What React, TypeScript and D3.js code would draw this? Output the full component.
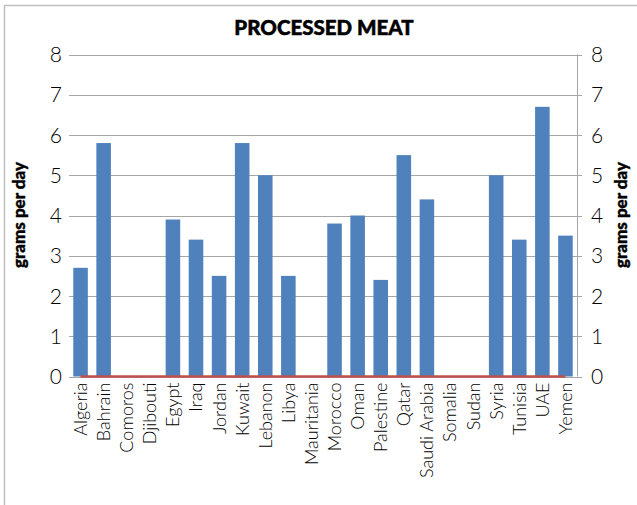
import React from "react";
import * as d3 from "d3";

const countries = ["Algeria","Bahrain","Comoros","Djibouti","Egypt","Iraq","Jordan","Kuwait","Lebanon","Libya","Mauritania","Morocco","Oman","Palestine","Qatar","Saudi Arabia","Somalia","Sudan","Syria","Tunisia","UAE","Yemen"];
const values = [2.7,5.8,0,0,3.9,3.4,2.5,5.8,5.0,2.5,0,3.8,4.0,2.4,5.5,4.4,0,0,5.0,3.4,6.7,3.5];
const baseline = countries.map(() => 0);
const yTicks = [0,1,2,3,4,5,6,7,8];

const W = 637, H = 505;
const left = 69, right = 577, top = 54.5, bottom = 376.5;
const font = "Lato, 'Noto Sans', sans-serif";

export default function App() {
  const x = d3.scaleBand<string>().domain(countries).range([left, right]).paddingInner(0.37).paddingOuter(0.185);
  const xc = d3.scaleBand<string>().domain(countries).range([left, right]);
  const y = d3.scaleLinear().domain([0, 8]).range([bottom, top]);
  const line = d3.line<number>().x((_, i) => xc(countries[i])! + xc.bandwidth() / 2).y(d => y(d));
  return (
    <svg width={W} height={H} style={{ position: "absolute", left: 0, top: 0, background: "#fff" }}>
      <rect x={0} y={0} width={W} height={H} fill="#fff" />
      <line x1={4.5} y1={5} x2={4.5} y2={H} stroke="#bfbfbf" strokeWidth={1.5} />
      <line x1={4} y1={5.5} x2={W} y2={5.5} stroke="#bfbfbf" strokeWidth={1.5} />
      <text x={324} y={35} textAnchor="middle" fontFamily={font} fontWeight={900} fontSize={20.5} stroke="#000" strokeWidth={0.5}>PROCESSED MEAT</text>
      {yTicks.map(t => (
        <g key={t}>
          <line x1={left} x2={right + 5} y1={Math.round(y(t)) + 0.5} y2={Math.round(y(t)) + 0.5} stroke="#a6a6a6" strokeWidth={1} />
          <text x={62} y={y(t)} dy="0.36em" textAnchor="end" fontFamily={font} fontWeight={300} fontSize={21}>{t}</text>
          <text x={591} y={y(t)} dy="0.36em" textAnchor="start" fontFamily={font} fontWeight={300} fontSize={21}>{t}</text>
        </g>
      ))}
      <line x1={right + 0.5} x2={right + 0.5} y1={top} y2={bottom} stroke="#a6a6a6" strokeWidth={1} />
      {countries.map((c, i) => (
        <rect key={c} x={x(c)} y={y(values[i])} width={x.bandwidth()} height={y(0) - y(values[i])} fill="#4f81bd" />
      ))}
      <path d={line(baseline) || ""} stroke="#c0504d" strokeWidth={2.5} fill="none" />
      {countries.map(c => (
        <text key={c} transform={`translate(${xc(c)! + xc.bandwidth() / 2},${bottom + 6}) rotate(-90)`} dy="0.36em" textAnchor="end" fontFamily={font} fontWeight={300} fontSize={18}>{c}</text>
      ))}
      <text transform={`translate(25,215) rotate(-90)`} textAnchor="middle" fontFamily={font} fontWeight={900} fontSize={17} stroke="#000" strokeWidth={0.4}>grams per day</text>
      <text transform={`translate(627,215) rotate(-90)`} textAnchor="middle" fontFamily={font} fontWeight={900} fontSize={17} stroke="#000" strokeWidth={0.4}>grams per day</text>
    </svg>
  );
}
